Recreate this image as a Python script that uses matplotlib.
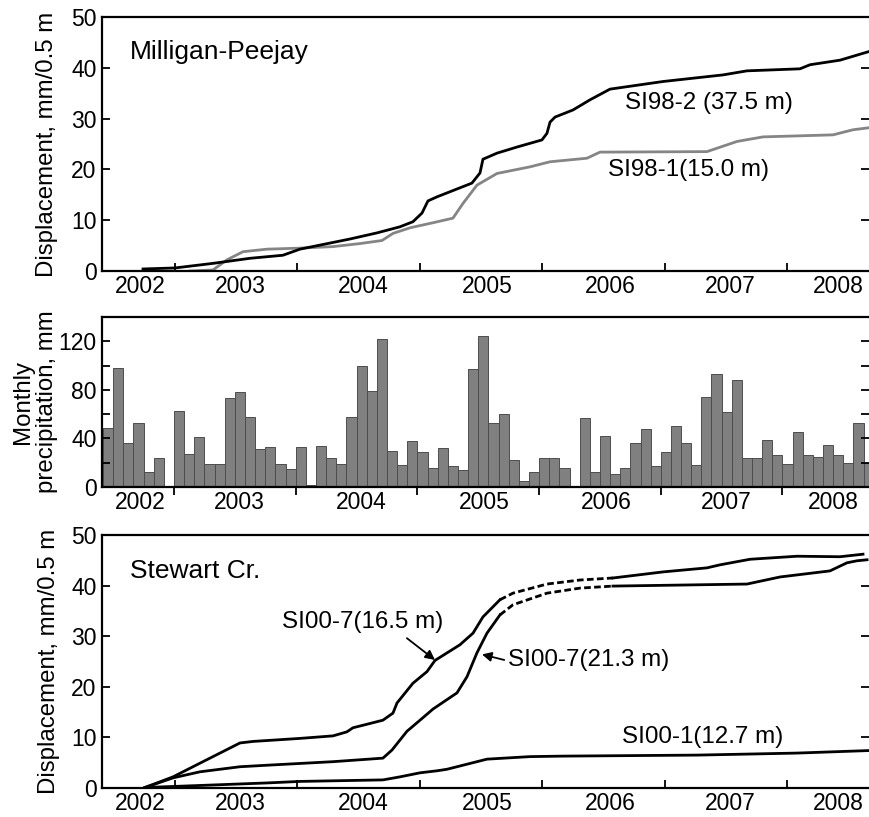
import matplotlib.pyplot as plt

plt.rcParams['font.family'] = ['Liberation Sans', 'DejaVu Sans']

year_labels = ['2002', '2003', '2004', '2005', '2006', '2007', '2008']
year_ticks = [2003, 2004, 2005, 2006, 2007, 2008]

# Milligan-Peejay inclinometers (decimal year, mm/0.5 m)
si98_2_t = [2002.739, 2003.000, 2003.310, 2003.613, 2003.882, 2004.021, 2004.185, 2004.430,
            2004.650, 2004.838, 2004.944, 2005.018, 2005.067, 2005.141, 2005.426, 2005.492,
            2005.516, 2005.631, 2005.794, 2005.998, 2006.039, 2006.064, 2006.105, 2006.252,
            2006.391, 2006.554, 2006.987, 2007.477, 2007.673, 2008.106, 2008.188, 2008.433,
            2008.670]
si98_2_d = [0.4, 0.6, 1.5, 2.5, 3.1, 4.3, 5.1, 6.3,
            7.5, 8.7, 9.7, 11.4, 13.8, 14.6, 17.3, 19.3,
            22.0, 23.2, 24.4, 25.8, 27.1, 29.3, 30.3, 31.7,
            33.7, 35.8, 37.3, 38.6, 39.4, 39.8, 40.6, 41.5,
            43.2]

si98_1_t = [2003.123, 2003.310, 2003.425, 2003.556, 2003.752, 2004.021, 2004.291, 2004.511,
            2004.691, 2004.781, 2004.920, 2005.108, 2005.271, 2005.353, 2005.467, 2005.631,
            2005.900, 2006.064, 2006.366, 2006.472, 2007.346, 2007.592, 2007.804, 2008.376,
            2008.539, 2008.670]
si98_1_d = [0.0, 0.2, 2.2, 3.8, 4.3, 4.5, 4.8, 5.4,
            6.0, 7.4, 8.5, 9.5, 10.4, 13.3, 16.9, 19.2,
            20.5, 21.5, 22.2, 23.4, 23.5, 25.5, 26.4, 26.8,
            27.8, 28.2]

# monthly precipitation, June 2002 - September 2008
precip_first_month = 2002 + 5 / 12
precip = [49, 98, 36, 53, 12, 24, 0,
          63, 27, 41, 19, 19, 73, 78, 58, 31, 33, 19, 15,
          33, 2, 34, 24, 19, 58, 100, 79, 122, 30, 18, 38,
          29, 16, 32, 17, 14, 97, 124, 53, 60, 22, 5, 12,
          24, 24, 16, 0, 57, 12, 42, 11, 16, 36, 48, 17,
          29, 50, 36, 18, 74, 93, 62, 88, 24, 24, 39, 26,
          19, 45, 26, 25, 35, 26, 20, 53, 20]

# Stewart Cr. inclinometers
si00_7a_t = [2002.755, 2002.984, 2003.204, 2003.474, 2003.531, 2003.637, 2004.021, 2004.291,
             2004.405, 2004.454, 2004.569, 2004.699, 2004.781, 2004.814, 2004.944, 2005.059,
             2005.124, 2005.328, 2005.435, 2005.516, 2005.655, 2005.761, 2006.039, 2006.309,
             2006.578, 2006.987, 2007.346, 2007.453, 2007.698, 2008.082, 2008.433, 2008.621]
si00_7a_d = [0.1, 2.2, 4.9, 8.2, 8.9, 9.2, 9.8, 10.3,
             11.1, 11.9, 12.6, 13.4, 14.8, 16.8, 20.7, 23.0,
             25.2, 28.3, 30.6, 33.8, 37.2, 38.5, 40.3, 41.1,
             41.5, 42.7, 43.5, 44.1, 45.2, 45.8, 45.7, 46.2]

si00_7b_t = [2002.755, 2002.984, 2003.204, 2003.531, 2003.752, 2004.291, 2004.699, 2004.773,
             2004.895, 2005.002, 2005.108, 2005.304, 2005.386, 2005.467, 2005.549, 2005.655,
             2005.761, 2006.039, 2006.309, 2006.578, 2007.673, 2007.943, 2008.351, 2008.490,
             2008.572, 2008.654]
si00_7b_d = [0.1, 2.0, 3.2, 4.2, 4.5, 5.2, 5.9, 7.5,
             11.2, 13.4, 15.6, 18.8, 22.0, 26.7, 30.6, 34.2,
             36.2, 38.5, 39.5, 39.9, 40.3, 41.7, 42.9, 44.5,
             44.9, 45.1]

si00_1_t = [2002.755, 2003.204, 2003.752, 2004.021, 2004.699, 2004.838, 2005.002, 2005.141,
            2005.222, 2005.549, 2005.900, 2006.170, 2007.265, 2008.082, 2008.670]
si00_1_d = [0.1, 0.5, 1.0, 1.3, 1.6, 2.2, 3.0, 3.4,
            3.7, 5.7, 6.2, 6.3, 6.5, 6.9, 7.4]

# no readings in this interval (drawn dashed)
gap_start, gap_end = 2005.655, 2006.578

xlim_disp = (2002.404, 2008.670)
xlim_prec = (2002.408, 2008.711)
label_pos = [2002.72, 2003.535, 2004.54, 2005.55, 2006.555, 2007.54, 2008.42]

fs_tick = 16.5
fs_lab = 17.3
fs_note = 17.4

fig = plt.figure(figsize=(8.69, 8.17), dpi=100)
ax1 = fig.add_axes([0.1174, 0.6683, 0.8826, 0.3109])
ax2 = fig.add_axes([0.1174, 0.4039, 0.8826, 0.2081])
ax3 = fig.add_axes([0.1174, 0.0355, 0.8826, 0.3097])


def style_axes(ax, xdir):
    for s in ['left', 'top', 'bottom']:
        ax.spines[s].set_linewidth(1.6)
    ax.spines['right'].set_visible(False)
    ax.set_xticks(year_ticks)
    ax.set_xticklabels([])
    ax.set_xticks(label_pos, minor=True)
    ax.set_xticklabels(year_labels, minor=True)
    ax.tick_params(axis='x', which='major', direction=xdir, length=6, width=1.3)
    ax.tick_params(axis='x', which='minor', length=0, pad=3, labelsize=fs_tick)
    ax.tick_params(axis='y', which='both', direction='in', length=6, width=1.3,
                   right=True, labelsize=fs_tick, pad=4)


def split_plot(ax, t, d):
    solid1 = [(a, b) for a, b in zip(t, d) if a <= gap_start]
    dash = [(a, b) for a, b in zip(t, d) if gap_start <= a <= gap_end]
    solid2 = [(a, b) for a, b in zip(t, d) if a >= gap_end]
    for seg, ls in [(solid1, '-'), (dash, (0, (2.4, 1.2))), (solid2, '-')]:
        ax.plot([p[0] for p in seg], [p[1] for p in seg], color='black', lw=2.0, ls=ls)


# top panel
ax1.plot(si98_1_t, si98_1_d, color='#858585', lw=2.0)
ax1.plot(si98_2_t, si98_2_d, color='black', lw=2.0)
ax1.set_xlim(*xlim_disp)
ax1.set_ylim(0, 50)
ax1.set_yticks(range(0, 51, 10))
style_axes(ax1, 'in')
ax1.set_ylabel('Displacement, mm/0.5 m', fontsize=fs_lab)
ax1.yaxis.set_label_coords(-0.057, 0.5)
ax1.text(0.0365, 0.862, 'Milligan-Peejay', transform=ax1.transAxes, fontsize=19,
         ha='left', va='center')
ax1.text(2006.676, 33.1, 'SI98-2 (37.5 m)', fontsize=fs_note, ha='left', va='center')
ax1.text(2006.538, 19.9, 'SI98-1(15.0 m)', fontsize=fs_note, ha='left', va='center')

# middle panel
months = [precip_first_month + i / 12 for i in range(len(precip))]
ax2.bar(months, precip, width=1 / 12, align='edge', color='#808080',
        edgecolor='#4d4d4d', linewidth=0.7)
ax2.set_xlim(*xlim_prec)
ax2.set_ylim(0, 140)
ax2.set_yticks([0, 40, 80, 120])
ax2.set_yticks([20, 60, 100], minor=True)
style_axes(ax2, 'out')
ax2.set_ylabel('Monthly\nprecipitation, mm', fontsize=fs_lab, linespacing=1.12)
ax2.yaxis.set_label_coords(-0.057, 0.5)

# bottom panel
split_plot(ax3, si00_7a_t, si00_7a_d)
split_plot(ax3, si00_7b_t, si00_7b_d)
ax3.plot(si00_1_t, si00_1_d, color='black', lw=2.0)
ax3.set_xlim(*xlim_disp)
ax3.set_ylim(0, 50)
ax3.set_yticks(range(0, 51, 10))
style_axes(ax3, 'in')
ax3.set_ylabel('Displacement, mm/0.5 m', fontsize=fs_lab)
ax3.yaxis.set_label_coords(-0.055, 0.5)
ax3.text(0.0365, 0.857, 'Stewart Cr.', transform=ax3.transAxes, fontsize=19,
         ha='left', va='center')
arrow = dict(arrowstyle='-|>', color='black', lw=1.3, mutation_scale=14,
             shrinkA=0, shrinkB=0)
ax3.text(2003.874, 32.9, 'SI00-7(16.5 m)', fontsize=fs_note, ha='left', va='center')
ax3.annotate('', xy=(2005.124, 25.3), xytext=(2004.895, 29.6), arrowprops=arrow)
ax3.annotate('', xy=(2005.508, 26.4), xytext=(2005.690, 25.3), arrowprops=arrow)
ax3.text(2005.721, 25.2, 'SI00-7(21.3 m)', fontsize=fs_note, ha='left', va='center')
ax3.text(2006.652, 10.0, 'SI00-1(12.7 m)', fontsize=fs_note, ha='left', va='center')

fig.savefig('out.png', dpi=100)
